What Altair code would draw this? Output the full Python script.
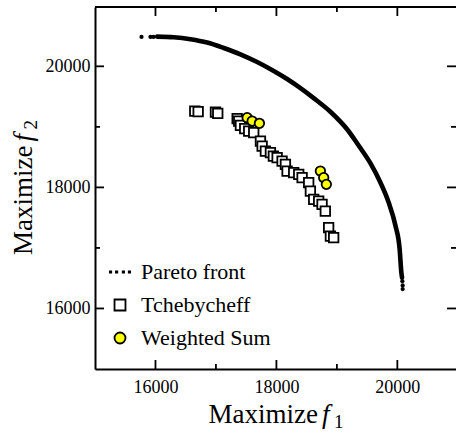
import altair as alt
import pandas as pd

# ---------------- data ----------------
series_names = ["Pareto front", "Tchebycheff", "Weighted Sum"]

pareto_f1 = [16028, 16303, 16579, 16855, 17129, 17405, 17681, 17956, 18177, 18369, 18617,
             18893, 19169, 19334, 19389, 19554, 19720, 19857, 19968, 20038, 20066, 20078]
pareto_f2 = [20491, 20480, 20447, 20392, 20303, 20199, 20071, 19923, 19790, 19660, 19475,
             19250, 18960, 18730, 18650, 18400, 18080, 17750, 17370, 16980, 16600, 16510]

pareto_dot_f1 = [15769, 15917, 15967, 20083, 20088, 20088]
pareto_dot_f2 = [20485, 20485, 20485, 16450, 16380, 16320]

tcheb_f1 = [16650, 16706, 16992, 17030, 17351, 17377, 17405, 17476, 17542, 17625, 17736,
            17764, 17818, 17901, 17950, 18012, 18094, 18149, 18177, 18286, 18369, 18425,
            18534, 18562, 18617, 18699, 18755, 18809, 18864, 18893, 18947]
tcheb_f2 = [19261, 19252, 19245, 19223, 19136, 19096, 19025, 18971, 18931, 18904, 18766,
            18683, 18600, 18574, 18518, 18491, 18435, 18380, 18270, 18243, 18215, 18161,
            18078, 17939, 17802, 17774, 17719, 17608, 17334, 17195, 17169]

ws_f1 = [17516, 17599, 17719, 18727, 18782, 18826]
ws_f2 = [19152, 19096, 19058, 18270, 18161, 18050]

major_ticks = [16000, 18000, 20000]
minor_ticks = [17000, 19000]

x_title = ["Maximize", "f", "1"]
y_title = ["Maximize", "f", "2"]

# ---------------- layout ----------------
W, H = 361, 362
FONT = "Liberation Serif"
x_scale = alt.Scale(domain=[15000, 20970], nice=False, zero=False)
y_scale = alt.Scale(domain=[15000, 20980], nice=False, zero=False)

pareto_df = pd.DataFrame({"f1": pareto_f1, "f2": pareto_f2, "i": list(range(len(pareto_f1)))})
dots_df = pd.DataFrame({"f1": pareto_dot_f1, "f2": pareto_dot_f2})
pts_df = pd.DataFrame({
    "f1": tcheb_f1 + ws_f1,
    "f2": tcheb_f2 + ws_f2,
    "series": [series_names[1]] * len(tcheb_f1) + [series_names[2]] * len(ws_f1),
    "i": list(range(len(tcheb_f1) + len(ws_f1))),
})

dotted_path = ("M-1.85,-0.12H-1.6V0.12H-1.85Z M-0.75,-0.12H-0.5V0.12H-0.75Z "
               "M0.5,-0.12H0.75V0.12H0.5Z M1.6,-0.12H1.85V0.12H1.6Z")

x_axis = alt.Axis(values=major_ticks, format="d", title=None, ticks=False, grid=False,
                  labelFont=FONT, labelFontSize=18, labelColor="black", labelPadding=9,
                  domain=True, domainColor="black", domainWidth=2)
y_axis = alt.Axis(values=major_ticks, format="d", title=None, ticks=False, grid=False,
                  labelFont=FONT, labelFontSize=18, labelColor="black", labelPadding=5,
                  domain=True, domainColor="black", domainWidth=2)

X = lambda f: alt.X(f, scale=x_scale, axis=x_axis)
Y = lambda f: alt.Y(f, scale=y_scale, axis=y_axis)

front_line = alt.Chart(pareto_df).mark_line(
    color="black", strokeWidth=4.6, interpolate="monotone", strokeCap="round"
).encode(x=X("f1:Q"), y=Y("f2:Q"), order="i:Q")

front_dots = alt.Chart(dots_df).mark_circle(color="black", size=18, opacity=1).encode(
    x=X("f1:Q"), y=Y("f2:Q"))

legend = alt.Legend(
    title=None, orient="none", legendX=14, legendY=254,
    labelFont=FONT, labelFontSize=22, labelColor="black", labelOffset=10,
    symbolSize=120, symbolStrokeColor="black", symbolStrokeWidth=1.8,
    rowPadding=11,
)

points = alt.Chart(pts_df).mark_point(
    filled=True, stroke="black", strokeWidth=1.8, size=90, opacity=1
).encode(
    x=X("f1:Q"), y=Y("f2:Q"),
    shape=alt.Shape("series:N", scale=alt.Scale(domain=series_names,
                                                 range=[dotted_path, "square", "circle"]),
                    legend=legend),
    fill=alt.Fill("series:N", scale=alt.Scale(domain=series_names,
                                               range=["black", "white", "#ffff00"]),
                  legend=legend),
    stroke=alt.Stroke("series:N", scale=alt.Scale(domain=series_names,
                                                   range=["black", "black", "black"]),
                      legend=legend),
    order="i:Q",
)

def tick_layer(vals, side, length):
    df = pd.DataFrame({"v": vals})
    base = alt.Chart(df).mark_rule(color="black", strokeWidth=1.8)
    if side == "xb":
        return base.encode(x=X("v:Q"), y=alt.value(H), y2=alt.value(H - length))
    if side == "xt":
        return base.encode(x=X("v:Q"), y=alt.value(0), y2=alt.value(length))
    if side == "yl":
        return base.encode(y=Y("v:Q"), x=alt.value(0), x2=alt.value(length))
    return base.encode(y=Y("v:Q"), x=alt.value(W), x2=alt.value(W - length))

ticks = []
for side in ["xb", "xt", "yl", "yr"]:
    ticks.append(tick_layer(major_ticks, side, 9))
    ticks.append(tick_layer(minor_ticks, side, 5))

top_border = alt.Chart(pd.DataFrame({"t": [0]})).mark_rule(color="black", strokeWidth=2).encode(
    x=alt.value(0), x2=alt.value(W), y=alt.value(0)
)

def txt(s, size, style, **kw):
    return alt.Chart(pd.DataFrame({"t": [s]})).mark_text(
        font=FONT, fontSize=size, fontStyle=style, color="black", **kw
    ).encode(text="t:N")

xt1 = txt(x_title[0], 27, "normal", align="right", baseline="alphabetic").encode(
    x=alt.value(223), y=alt.value(416))
xt2 = txt(x_title[1], 27, "italic", align="left", baseline="alphabetic").encode(
    x=alt.value(227), y=alt.value(416))
xt3 = txt(x_title[2], 19, "normal", align="left", baseline="alphabetic").encode(
    x=alt.value(239), y=alt.value(421))

yt1 = txt(y_title[0], 27, "normal", align="right", baseline="alphabetic", angle=270).encode(
    x=alt.value(-63.5), y=alt.value(138.5))
yt2 = txt(y_title[1], 27, "italic", align="left", baseline="alphabetic", angle=270).encode(
    x=alt.value(-63.5), y=alt.value(134.5))
yt3 = txt(y_title[2], 19, "normal", align="left", baseline="alphabetic", angle=270).encode(
    x=alt.value(-58.5), y=alt.value(122.5))

chart = alt.layer(
    front_line, front_dots, *ticks, top_border, points, xt1, xt2, xt3, yt1, yt2, yt3
).properties(
    width=W, height=H,
    autosize=alt.AutoSizeParams(type="none"),
    padding={"left": 95, "top": 7, "right": 0, "bottom": 65},
    background="white",
).configure_view(stroke=None)

chart.save("out.html", embed_options={"renderer": "svg", "actions": False})
